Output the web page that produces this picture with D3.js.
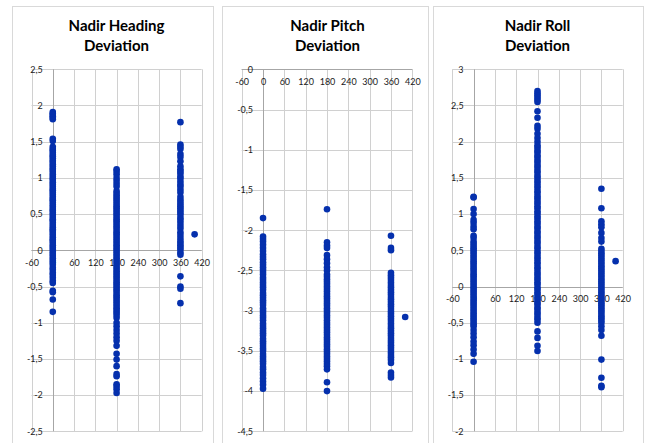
<!DOCTYPE html>
<html>
<head>
<meta charset="utf-8">
<script src="https://cdn.jsdelivr.net/npm/d3@7"></script>
<style>
  body { margin: 0; background: #fff; }
  svg { display: block; }
</style>
</head>
<body>
<svg id="chart" width="645" height="443"></svg>
<script>
// Tick values
const xTicks = [-60, 0, 60, 120, 180, 240, 300, 360, 420];
const headingTicks = [2.5, 2, 1.5, 1, 0.5, 0, -0.5, -1, -1.5, -2, -2.5];
const pitchTicks = [0, -0.5, -1, -1.5, -2, -2.5, -3, -3.5, -4, -4.5];
const rollTicks = [3, 2.5, 2, 1.5, 1, 0.5, 0, -0.5, -1, -1.5, -2];

// Cluster positions (degrees) and stray point
const clusterX = [0, 180, 360];
const strayX = 400;

// Nadir Heading deviation
const headingAt0 = [1.91, 1.89, 1.87, 1.85, 1.83, 1.81, 1.54, 1.51, 1.43, 1.40, 1.38, 1.35, 1.32, 1.30, 1.27, 1.24,
  1.22, 1.19, 1.16, 1.13, 1.11, 1.08, 1.05, 1.02, 0.99, 0.97, 0.94, 0.91, 0.88, 0.85, 0.83, 0.80, 0.77, 0.74,
  0.71, 0.69, 0.66, 0.63, 0.60, 0.57, 0.55, 0.52, 0.49, 0.46, 0.43, 0.41, 0.38, 0.35, 0.32, 0.29, 0.27, 0.24,
  0.21, 0.18, 0.15, 0.13, 0.10, 0.07, 0.04, 0.01, -0.02, -0.05, -0.08, -0.11, -0.14, -0.17, -0.20, -0.24,
  -0.27, -0.31, -0.34, -0.38, -0.42, -0.45, -0.56, -0.58, -0.68, -0.85];
const headingAt180 = [1.12, 1.09, 1.05, 1.00, 0.96, 0.92, 0.88, 0.82, 0.79, 0.76, 0.73, 0.70, 0.67, 0.64, 0.61,
  0.58, 0.55, 0.52, 0.49, 0.46, 0.43, 0.40, 0.37, 0.34, 0.31, 0.28, 0.25, 0.22, 0.19, 0.16, 0.13, 0.10, 0.07,
  0.04, 0.01, -0.02, -0.05, -0.08, -0.11, -0.14, -0.17, -0.20, -0.23, -0.26, -0.29, -0.32, -0.35, -0.38,
  -0.41, -0.44, -0.47, -0.50, -0.53, -0.56, -0.59, -0.62, -0.65, -0.68, -0.71, -0.74, -0.77, -0.80, -0.83,
  -0.86, -0.89, -0.93, -1.00, -1.05, -1.10, -1.15, -1.20, -1.25, -1.32, -1.43, -1.51, -1.60, -1.71, -1.74,
  -1.85, -1.88, -1.92, -1.97];
const headingAt360 = [1.77, 1.46, 1.43, 1.40, 1.33, 1.29, 1.23, 1.16, 1.12, 1.09, 1.06, 1.02, 0.99, 0.95, 0.91,
  0.88, 0.84, 0.80, 0.74, 0.70, 0.67, 0.64, 0.61, 0.58, 0.55, 0.52, 0.49, 0.45, 0.42, 0.38, 0.34, 0.30, 0.25,
  0.21, 0.17, 0.13, 0.10, 0.07, 0.04, 0.01, -0.03, -0.06, -0.36, -0.50, -0.53, -0.73];
const headingStray = 0.22;

// Nadir Pitch deviation
const pitchAt0 = [-1.85, -2.08, -2.11, -2.14, -2.18, -2.22, -2.26, -2.30, -2.33, -2.36, -2.40, -2.43, -2.46,
  -2.49, -2.52, -2.55, -2.59, -2.62, -2.65, -2.68, -2.71, -2.74, -2.78, -2.81, -2.84, -2.87, -2.90, -2.93,
  -2.97, -3.00, -3.03, -3.06, -3.09, -3.12, -3.16, -3.19, -3.22, -3.25, -3.28, -3.31, -3.35, -3.38, -3.41,
  -3.44, -3.47, -3.50, -3.54, -3.57, -3.60, -3.63, -3.66, -3.70, -3.73, -3.77, -3.80, -3.84, -3.88, -3.92, -3.97];
const pitchAt180 = [-1.74, -2.15, -2.19, -2.22, -2.31, -2.36, -2.41, -2.46, -2.50, -2.55, -2.58, -2.61, -2.64,
  -2.67, -2.70, -2.73, -2.76, -2.79, -2.82, -2.85, -2.88, -2.91, -2.94, -2.97, -3.00, -3.03, -3.06, -3.09,
  -3.12, -3.15, -3.18, -3.21, -3.24, -3.27, -3.30, -3.33, -3.36, -3.39, -3.42, -3.45, -3.48, -3.51, -3.54,
  -3.57, -3.60, -3.63, -3.66, -3.69, -3.73, -3.89, -4.00];
const pitchAt360 = [-2.07, -2.22, -2.25, -2.53, -2.56, -2.59, -2.62, -2.65, -2.68, -2.71, -2.74, -2.77, -2.80,
  -2.83, -2.86, -2.89, -2.92, -2.95, -2.98, -3.01, -3.04, -3.07, -3.10, -3.13, -3.16, -3.19, -3.22, -3.25,
  -3.28, -3.31, -3.34, -3.37, -3.40, -3.43, -3.46, -3.49, -3.52, -3.55, -3.58, -3.61, -3.65, -3.77, -3.80, -3.83];
const pitchStray = -3.08;

// Nadir Roll deviation
const rollAt0 = [1.24, 1.23, 1.07, 1.00, 0.92, 0.88, 0.83, 0.79, 0.70, 0.67, 0.62, 0.59, 0.56, 0.53, 0.50,
  0.47, 0.44, 0.41, 0.38, 0.35, 0.32, 0.29, 0.26, 0.23, 0.20, 0.17, 0.14, 0.11, 0.08, 0.05, 0.02, -0.01,
  -0.04, -0.07, -0.10, -0.13, -0.16, -0.19, -0.22, -0.25, -0.28, -0.31, -0.34, -0.37, -0.40, -0.43, -0.46,
  -0.49, -0.52, -0.55, -0.60, -0.65, -0.70, -0.76, -0.81, -0.87, -0.93, -1.04];
const rollAt180 = [2.70, 2.67, 2.64, 2.61, 2.58, 2.55, 2.42, 2.33, 2.22, 2.18, 2.11, 2.05, 2.00, 1.95, 1.92,
  1.88, 1.85, 1.81, 1.78, 1.74, 1.71, 1.67, 1.64, 1.60, 1.57, 1.53, 1.50, 1.46, 1.43, 1.39, 1.36, 1.32, 1.29,
  1.25, 1.22, 1.18, 1.15, 1.11, 1.08, 1.04, 1.01, 0.97, 0.94, 0.90, 0.87, 0.83, 0.80, 0.76, 0.73, 0.69, 0.66,
  0.62, 0.59, 0.55, 0.52, 0.48, 0.45, 0.41, 0.38, 0.34, 0.31, 0.27, 0.24, 0.20, 0.17, 0.13, 0.10, 0.06, 0.03,
  -0.01, -0.04, -0.08, -0.11, -0.15, -0.18, -0.22, -0.25, -0.29, -0.32, -0.36, -0.39, -0.43, -0.46, -0.50,
  -0.62, -0.71, -0.82, -0.89];
const rollAt360 = [1.35, 1.08, 0.90, 0.86, 0.82, 0.74, 0.67, 0.62, 0.52, 0.49, 0.46, 0.43, 0.40, 0.37, 0.34,
  0.31, 0.28, 0.25, 0.22, 0.19, 0.16, 0.13, 0.10, 0.07, 0.04, 0.01, -0.02, -0.05, -0.08, -0.11, -0.14, -0.17,
  -0.20, -0.23, -0.26, -0.29, -0.32, -0.35, -0.38, -0.41, -0.44, -0.47, -0.50, -0.55, -0.60, -0.68, -1.01,
  -1.26, -1.37, -1.39];
const rollStray = 0.35;

const panels = [
  { title: ['Nadir Heading', 'Deviation'], frame: [12, 213], cx: 116.5,
    xRange: [31.5, 201.7], yDomain: [-2.5, 2.5], yRange: [431.3, 69.3], yTicks: headingTicks,
    clusters: [headingAt0, headingAt180, headingAt360], stray: headingStray },
  { title: ['Nadir Pitch', 'Deviation'], frame: [222, 428], cx: 327.5,
    xRange: [241.7, 412.3], yDomain: [-4.5, 0], yRange: [431.3, 69.3], yTicks: pitchTicks,
    clusters: [pitchAt0, pitchAt180, pitchAt360], stray: pitchStray },
  { title: ['Nadir Roll', 'Deviation'], frame: [433, 643], cx: 537.5,
    xRange: [452.3, 622.7], yDomain: [-2, 3], yRange: [431.3, 69.3], yTicks: rollTicks,
    clusters: [rollAt0, rollAt180, rollAt360], stray: rollStray }
];

const svg = d3.select('#chart');
const fmt = d => String(d).replace('.', ',');

panels.forEach(p => {
  const g = svg.append('g');

  // outer chart frame (bottom runs off the picture)
  g.append('rect')
    .attr('x', p.frame[0] + 0.5).attr('y', 6.5)
    .attr('width', p.frame[1] - p.frame[0]).attr('height', 460)
    .attr('fill', '#fff').attr('stroke', '#d9d9d9');

  const x = d3.scaleLinear().domain([-60, 420]).range(p.xRange);
  const y = d3.scaleLinear().domain(p.yDomain).range(p.yRange);

  // gridlines
  g.selectAll('.vgrid').data(xTicks).enter().append('line')
    .attr('x1', d => Math.round(x(d)) + 0.5).attr('x2', d => Math.round(x(d)) + 0.5)
    .attr('y1', p.yRange[1]).attr('y2', p.yRange[0])
    .attr('stroke', '#d0d0d0');
  g.selectAll('.hgrid').data(p.yTicks).enter().append('line')
    .attr('x1', p.xRange[0]).attr('x2', p.xRange[1])
    .attr('y1', d => Math.round(y(d)) + 0.5).attr('y2', d => Math.round(y(d)) + 0.5)
    .attr('stroke', '#d0d0d0');

  // axis lines through zero
  g.append('line')
    .attr('x1', Math.round(x(0)) + 0.5).attr('x2', Math.round(x(0)) + 0.5)
    .attr('y1', p.yRange[1]).attr('y2', p.yRange[0])
    .attr('stroke', '#a6a6a6');
  g.append('line')
    .attr('x1', p.xRange[0]).attr('x2', p.xRange[1])
    .attr('y1', Math.round(y(0)) + 0.5).attr('y2', Math.round(y(0)) + 0.5)
    .attr('stroke', '#a6a6a6');

  // tick labels
  const xAxis = g.append('g')
    .attr('transform', `translate(0,${y(0)})`)
    .call(d3.axisBottom(x).tickValues(xTicks).tickSize(0).tickPadding(9).tickFormat(fmt));
  const yAxis = g.append('g')
    .attr('transform', `translate(${x(0)},0)`)
    .call(d3.axisLeft(y).tickValues(p.yTicks).tickSize(0).tickPadding(10).tickFormat(fmt));
  [xAxis, yAxis].forEach(a => {
    a.select('.domain').remove();
    a.selectAll('text')
      .style('font-family', 'Lato, "Open Sans", sans-serif')
      .style('font-size', '9px')
      .style('fill', '#1a1a1a');
  });

  // title
  g.selectAll('.title').data(p.title).enter().append('text')
    .attr('x', p.cx).attr('y', (d, i) => 30.5 + i * 20)
    .attr('text-anchor', 'middle')
    .style('font-family', 'Lato, sans-serif')
    .style('font-weight', '700')
    .style('font-size', '15px')
    .style('fill', '#000')
    .text(d => d);

  // points
  const pts = [];
  p.clusters.forEach((ys, i) => ys.forEach(v => pts.push([clusterX[i], v])));
  pts.push([strayX, p.stray]);
  g.selectAll('.pt').data(pts).enter().append('circle')
    .attr('cx', d => x(d[0])).attr('cy', d => y(d[1]))
    .attr('r', 3.3)
    .attr('fill', '#0530ad');
});
</script>
</body>
</html>
